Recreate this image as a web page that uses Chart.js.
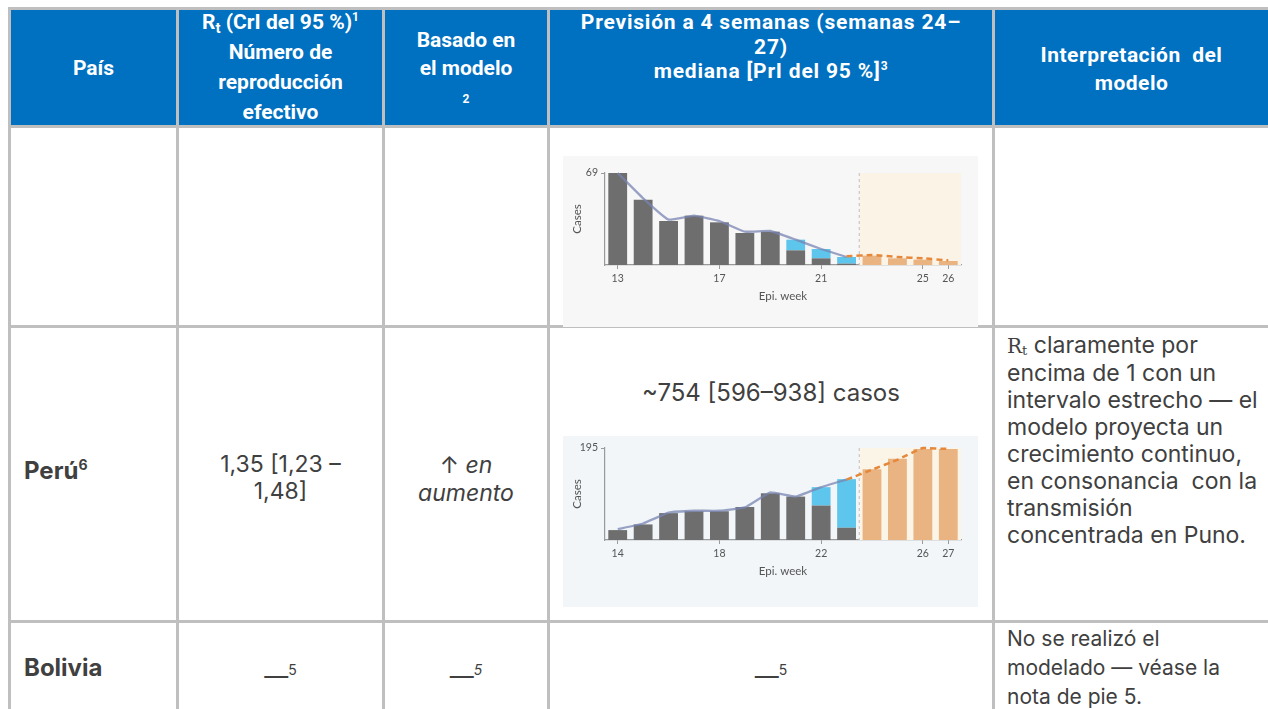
<!DOCTYPE html>
<html><head><meta charset="utf-8">
<script src="https://cdn.jsdelivr.net/npm/chart.js@4.4.0/dist/chart.umd.min.js"></script>
<style>
html,body{margin:0;padding:0;background:#fff;width:1268px;height:709px;overflow:hidden;position:relative;font-family:Inter,"Noto Sans",sans-serif;color:#404040}
.a{position:absolute;white-space:nowrap}
.vl{position:absolute;width:3px;background:#bfbfbf;top:7px;height:702px}
.hl{position:absolute;height:3px;background:#bfbfbf;left:8px;width:1260px}
.hd{position:absolute;color:#fff;font-family:Roboto,sans-serif;font-weight:700;font-size:21px;text-align:center;white-space:nowrap}
.hd sup{font-size:12px;vertical-align:8px;line-height:0}
.hd sub{font-size:15px;vertical-align:-4px;line-height:0}
.c{text-align:center}
.box{position:absolute;left:563px;width:415px;height:171px}
sup{line-height:0}
</style></head>
<body>
<div class="a" style="left:10px;top:10px;width:1258px;height:115px;background:#0070c0"></div>
<div class="hl" style="top:7px"></div>
<div class="hl" style="top:125px"></div>
<div class="hl" style="top:325px"></div>
<div class="hl" style="top:620px"></div>
<div class="vl" style="left:8px"></div>
<div class="vl" style="left:176px"></div>
<div class="vl" style="left:382px"></div>
<div class="vl" style="left:547px"></div>
<div class="vl" style="left:992px"></div>

<div class="hd" style="left:11px;width:165px;top:53px;line-height:30px">País</div>
<div class="hd" style="left:179px;width:203px;top:7px;line-height:30px">R<sub>t</sub> (CrI del 95 %)<sup>1</sup><br>Número de<br>reproducción<br>efectivo</div>
<div class="hd" style="left:385px;width:162px;top:26px;line-height:28px">Basado en<br>el modelo<br><span style="font-size:12px">2</span></div>
<div class="hd" style="left:550px;width:442px;top:10px;line-height:24.5px;letter-spacing:0.8px">Previsión a 4 semanas (semanas 24–<br>27)<br>mediana [PrI del 95 %]<sup>3</sup></div>
<div class="hd" style="left:995px;width:273px;top:41px;line-height:28px;letter-spacing:0.5px">Interpretación&nbsp; del<br>modelo</div>

<div class="box" id="boxA" style="top:156px;background:#f7f7f7"><canvas id="chartA" width="415" height="171"></canvas></div>
<div class="box" id="boxB" style="top:436px;background:#f2f6f9"><canvas id="chartB" width="415" height="171"></canvas></div>

<div class="a c" style="left:550px;width:442px;top:378px;line-height:30px;font-size:24px">~754 [596–938] casos</div>
<div class="a" style="left:24px;top:456px;line-height:30px;font-size:24px;font-weight:700">Perú<sup style="font-size:14px">6</sup></div>
<div class="a c" style="left:179px;width:203px;top:451px;line-height:27px;font-size:23px">1,35 [1,23 –<br>1,48]</div>
<div class="a c" style="left:385px;width:162px;top:451px;line-height:28px;font-size:23px">↑ <i>en</i><br><i>aumento</i></div>
<div class="a" style="left:1007px;top:332px;line-height:27px;font-size:23px"><span style="font-family:'DejaVu Serif',serif;font-size:20px">R<sub style="font-size:13px;vertical-align:-2px;line-height:0">t</sub></span> claramente por<br>encima de 1 con un<br>intervalo estrecho — el<br>modelo proyecta un<br>crecimiento continuo,<br>en consonancia&nbsp; con la<br>transmisión<br>concentrada en Puno.</div>

<div class="a" style="left:24px;top:653px;line-height:30px;font-size:24px;font-weight:700">Bolivia</div>
<div class="a c" style="left:179px;width:203px;top:661px;line-height:30px;font-size:24px">—<sup style="font-size:14px">5</sup></div>
<div class="a c" style="left:385px;width:162px;top:661px;line-height:30px;font-size:24px">—<sup style="font-size:14px"><i>5</i></sup></div>
<div class="a c" style="left:550px;width:442px;top:661px;line-height:30px;font-size:24px">—<sup style="font-size:14px">5</sup></div>
<div class="a" style="left:1007px;top:624px;line-height:29px;font-size:21px">No se realizó el<br>modelado — véase la<br>nota de pie 5.</div>

<script>
// ---- Chart A (upper row) ----
const weeksA = ['13','14','15','16','17','18','19','20','21','22','23','24','25','26'];
const shownTicksA = ['13','17','21','25','26'];
const observedA = [69,49,33,37,32,24,25,11,5,1,null,null,null,null];
const nowcastAddA = [null,null,null,null,null,null,null,8,7,5,null,null,null,null];
const forecastA = [null,null,null,null,null,null,null,null,null,null,7,5,4,3];
const fitA = [69,50,34,37,33,25,25.5,19,12,6,null,null,null,null];
const forecastLineA = [null,null,null,null,null,null,null,null,null,6.5,7.5,6,5,3.5];
const yMaxA = 69;

// ---- Chart B (Perú) ----
const weeksB = ['14','15','16','17','18','19','20','21','22','23','24','25','26','27'];
const shownTicksB = ['14','18','22','26','27'];
const observedB = [21,33,57,61,61,70,99,92,73,26,null,null,null,null];
const nowcastAddB = [null,null,null,null,null,null,null,null,39,103,null,null,null,null];
const forecastB = [null,null,null,null,null,null,null,null,null,null,150,172,193,193];
const fitB = [23,35,58,62,62,69,101,92,112,128,null,null,null,null];
const forecastLineB = [null,null,null,null,null,null,null,null,null,128,149,170,195,193];
const yMaxB = 195;

Chart.defaults.font.family = "Lato, 'Open Sans', sans-serif";
Chart.defaults.color = '#555';

function makeChart(id, d) {
  const splitPlugin = {
    id: 'split' + id,
    beforeDatasetsDraw(chart) {
      const {ctx, chartArea, scales: {x, y}} = chart;
      const xs = (x.getPixelForValue(d.split - 1) + x.getPixelForValue(d.split)) / 2;
      const yt = y.getPixelForValue(d.yMax), yb = y.getPixelForValue(0);
      ctx.save();
      ctx.fillStyle = d.shade;
      ctx.fillRect(xs, yt, chartArea.right - xs, yb - yt);
      ctx.strokeStyle = '#c8c8c8'; ctx.lineWidth = 1.2; ctx.setLineDash([3, 3]);
      ctx.beginPath(); ctx.moveTo(xs, yt); ctx.lineTo(xs, yb); ctx.stroke();
      ctx.restore();
    }
  };
  return new Chart(document.getElementById(id), {
    type: 'bar',
    data: {
      labels: d.weeks,
      datasets: [
        {type: 'line', data: d.fit, borderColor: 'rgba(120,132,178,0.75)', borderWidth: 2.3, pointRadius: 0, tension: 0.1, stack: 'fit', order: 0, clip: false},
        {type: 'line', data: d.fcLine, borderColor: '#e5883a', borderWidth: 2.5, borderDash: [6, 4], pointRadius: 0, tension: 0.1, stack: 'fc', order: 0, clip: false},
        {data: d.obs, backgroundColor: '#6e6e6e', stack: 'bars', order: 1, barPercentage: 0.74, categoryPercentage: 1},
        {data: d.add, backgroundColor: '#5ec6ec', stack: 'bars', order: 1, barPercentage: 0.74, categoryPercentage: 1},
        {data: d.fc, backgroundColor: '#e9b382', stack: 'bars', order: 1, barPercentage: 0.74, categoryPercentage: 1}
      ]
    },
    options: {
      responsive: false, animation: false,
      layout: {padding: {top: d.padTop, right: 17, bottom: d.padBottom, left: 0}},
      plugins: {legend: {display: false}, tooltip: {enabled: false}},
      scales: {
        x: {
          stacked: true, offset: true,
          grid: {offset: false, drawOnChartArea: false, drawTicks: true, tickLength: 4, color: '#9a9a9a'},
          border: {display: true, color: '#9a9a9a', width: 1.2},
          ticks: {autoSkip: false, maxRotation: 0, padding: 3, font: {size: 10.5}, color: '#555'},
          afterBuildTicks: s => { s.ticks = s.ticks.filter(t => d.shown.includes(d.weeks[t.value])); },
          afterFit: s => { s.height = 40; },
          title: {display: true, text: 'Epi. week', font: {size: 11.5}, color: '#555', padding: {top: 0, bottom: 2}}
        },
        y: {
          stacked: true, min: 0, max: d.yMax,
          grid: {drawOnChartArea: false, drawTicks: true, tickLength: 4, color: '#9a9a9a'},
          border: {display: true, color: '#9a9a9a', width: 1.2},
          ticks: {padding: 3, font: {size: 10.5}, color: '#555'},
          afterBuildTicks: s => { s.ticks = [{value: d.yMax}]; },
          afterFit: s => { s.width = 42; },
          title: {display: true, text: 'Cases', font: {size: 11.5}, color: '#555', padding: {top: 7, bottom: 0}}
        }
      }
    },
    plugins: [splitPlugin]
  });
}

makeChart('chartA', {weeks: weeksA, shown: shownTicksA, obs: observedA, add: nowcastAddA, fc: forecastA, fit: fitA, fcLine: forecastLineA, yMax: yMaxA, split: 10, shade: '#fcf3e7', padTop: 17, padBottom: 22});
makeChart('chartB', {weeks: weeksB, shown: shownTicksB, obs: observedB, add: nowcastAddB, fc: forecastB, fit: fitB, fcLine: forecastLineB, yMax: yMaxB, split: 10, shade: '#fbf5e7', padTop: 12, padBottom: 27});
</script>
</body></html>
